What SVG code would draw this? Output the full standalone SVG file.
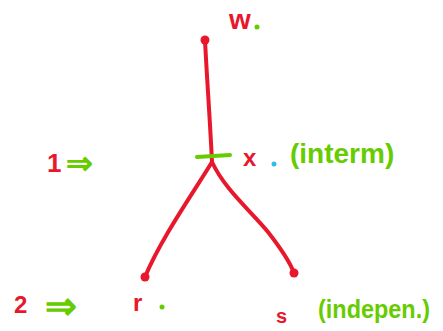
<svg xmlns="http://www.w3.org/2000/svg" width="443" height="331" viewBox="0 0 443 331">
<style>
.red{fill:#e8172c;font-family:"Liberation Sans",sans-serif;font-weight:bold}
.grn{fill:#66cc00;font-family:"Liberation Sans",sans-serif;font-weight:bold}
.edge{fill:none;stroke:#e8172c;stroke-width:4;stroke-linecap:round}
.dot{fill:#e8172c}
.gdot{fill:#66cc00}
</style>
<rect width="443" height="331" fill="#fff"/>
<g id="connectors">
<path class="edge" d="M205,40 C207,80 210,120 212,162"/>
<path class="edge" d="M212,162 C195,190 160,240 145,277"/>
<path class="edge" d="M212,162 C225,190 252,212 268,232 C282,250 290,262 294,273"/>
</g>
<g id="node-w">
<circle class="dot" cx="205" cy="40" r="4.5"/>
<text class="red" x="229" y="29" font-size="28">w</text>
<circle class="gdot" cx="257" cy="27" r="2.5"/>
</g>
<g id="node-x">
<line x1="197" y1="157" x2="230" y2="155" stroke="#66cc00" stroke-width="4" stroke-linecap="round"/>
<text class="red" x="243" y="166" font-size="24">x</text>
<circle cx="274" cy="164" r="2.5" fill="#33bbee"/>
<text class="grn" x="290" y="163" font-size="28">(interm)</text>
</g>
<g id="node-r">
<circle class="dot" cx="145" cy="277" r="4.5"/>
<text class="red" x="133" y="311" font-size="24">r</text>
<circle class="gdot" cx="162" cy="307" r="2.5"/>
</g>
<g id="node-s">
<circle class="dot" cx="294" cy="273" r="4.5"/>
<text class="red" x="276" y="323" font-size="20">s</text>
<text class="grn" x="318" y="318" font-size="26" textLength="112" lengthAdjust="spacingAndGlyphs">(indepen.)</text>
</g>
<g id="step-1">
<text class="red" x="47" y="172" font-size="26">1</text>
<text class="grn" x="66" y="174" font-size="32">⇒</text>
</g>
<g id="step-2">
<text class="red" x="14" y="313" font-size="24">2</text>
<text class="grn" x="45" y="319" font-size="38">⇒</text>
</g>
</svg>
